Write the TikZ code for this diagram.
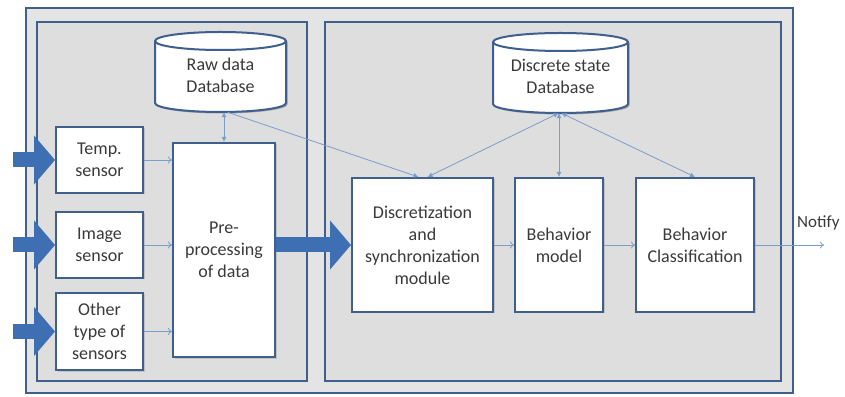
\documentclass[tikz,border=0pt]{standalone}
\usepackage{fontspec}
\setmainfont{Carlito}
\usetikzlibrary{arrows.meta,shadows,calc}
\definecolor{edgeblue}{HTML}{3F5F8F}
\definecolor{flowblue}{HTML}{7A9DCC}
\definecolor{bigblue}{HTML}{3E6FB3}
\definecolor{panelgray}{HTML}{DEDEDE}
\definecolor{outergray}{HTML}{E4E4E4}
\definecolor{txt}{HTML}{3A3A3A}

% database cylinder: name, centre x, centre y, width, height, text
\newcommand\dbcylinder[6]{%
  \fill[black,opacity=0.25,xshift=1.5pt,yshift=-1.5pt]
    (#2-#4/2,#3+#5/2-9) -- (#2-#4/2,#3-#5/2+9)
    arc[start angle=180,end angle=360,x radius=#4/2,y radius=9]
    -- (#2+#4/2,#3+#5/2-9)
    arc[start angle=0,end angle=180,x radius=#4/2,y radius=9] -- cycle;
  \draw[edgeblue,line width=2pt,fill=white]
    (#2-#4/2,#3+#5/2-9) -- (#2-#4/2,#3-#5/2+9)
    arc[start angle=180,end angle=360,x radius=#4/2,y radius=9]
    -- (#2+#4/2,#3+#5/2-9)
    arc[start angle=0,end angle=180,x radius=#4/2,y radius=9] -- cycle;
  \draw[edgeblue,line width=2pt]
    (#2+#4/2,#3+#5/2-9)
    arc[start angle=0,end angle=-180,x radius=#4/2,y radius=9];
  \node[inner sep=0pt,minimum width=#4,minimum height=#5] (#1) at (#2,#3) {};
  \node[dbtext] (#1-text) at ($(#1.center)+(0,-3)$) {#6};
}

\begin{document}
\begin{tikzpicture}[x=1pt,y=1pt,
  font=\fontsize{18}{22}\selectfont, text=txt,
  panel/.style={draw=edgeblue,line width=2pt},
  blockbox/.style={draw=edgeblue,line width=2pt,fill=white,align=center,
    inner sep=0pt,
    drop shadow={shadow xshift=1.5pt,shadow yshift=-1.5pt,opacity=0.3}},
  dbtext/.style={align=center,inner sep=0pt},
  flow/.style={draw=flowblue,line width=0.8pt,-{To[length=4pt,width=7pt]}},
  dblink/.style={draw=flowblue,line width=0.8pt,
    -{Latex[length=5pt,width=5pt]}},
  dblinkboth/.style={draw=flowblue,line width=0.8pt,
    {Latex[length=5pt,width=5pt]}-{Latex[length=5pt,width=5pt]}},
  bigarrow/.style={draw=bigblue,line width=15pt,
    -{Triangle[length=21pt,width=48pt]}},
]
\useasboundingbox (0,0) rectangle (845,396);

% frames
\draw[panel,fill=outergray] (26,3) rectangle (793,388);
\draw[panel,fill=panelgray] (37,15) rectangle (307,374);
\draw[panel,fill=panelgray] (325,15) rectangle (781,374);

% databases
\dbcylinder{rawdb}{220.5}{324}{131}{80}{Raw data\\Database}
\dbcylinder{statedb}{560.5}{323}{135}{80}{Discrete state\\Database}

% sensors and processing blocks
\node[blockbox,minimum width=87,minimum height=66] (temp) at (99.5,236) {Temp.\\sensor};
\node[blockbox,minimum width=87,minimum height=66] (image) at (99.5,151) {Image\\sensor};
\node[blockbox,minimum width=87,minimum height=77] (other) at (99.5,64.5) {Other\\type of\\sensors};
\node[blockbox,minimum width=102,minimum height=214] (pre) at (224,146) {Pre-\\processing\\of data};
\node[blockbox,minimum width=141,minimum height=134] (disc) at (422.5,151) {Discretization\\and\\synchronization\\module};
\node[blockbox,minimum width=88,minimum height=134] (model) at (559,151) {Behavior\\model};
\node[blockbox,minimum width=118,minimum height=134] (class) at (695,151) {Behavior\\Classification};

% inputs
\coordinate (in1) at (13,236);
\coordinate (in2) at (13,151);
\coordinate (in3) at (13,64.5);
\draw[bigarrow] (in1) -- (temp.west);
\draw[bigarrow] (in2) -- (image.west);
\draw[bigarrow] (in3) -- (other.west);
\draw[bigarrow] (pre.east |- disc.west) -- (disc.west);

% sensor readings into pre-processing
\draw[flow] (temp.east) -- (temp.east -| pre.west);
\draw[flow] (image.east) -- (image.east -| pre.west);
\draw[flow] (other.east) -- (other.east -| pre.west);

% database links
\draw[dblinkboth] (pre.north |- rawdb.south) -- (pre.north);
\draw[dblink] ($(rawdb.south)+(7,0)$) -- ($(disc.north)+(-4,0)$);
\draw[dblinkboth] ($(statedb.south)+(-2,0)$) -- ($(disc.north)+(5,0)$);
\draw[dblinkboth] (model.north |- statedb.south) -- (model.north);
\draw[dblinkboth] ($(statedb.south)+(1,0)$) -- (class.north);

% processing chain
\draw[flow] (disc.east) -- (model.west);
\draw[flow] (model.east) -- (class.west);
\coordinate (out) at (824,151);
\draw[flow] (class.east) -- (out);
\node[anchor=south west,inner sep=0pt,font=\fontsize{17}{20}\selectfont] (notify) at (797,166) {Notify};
\end{tikzpicture}
\end{document}
